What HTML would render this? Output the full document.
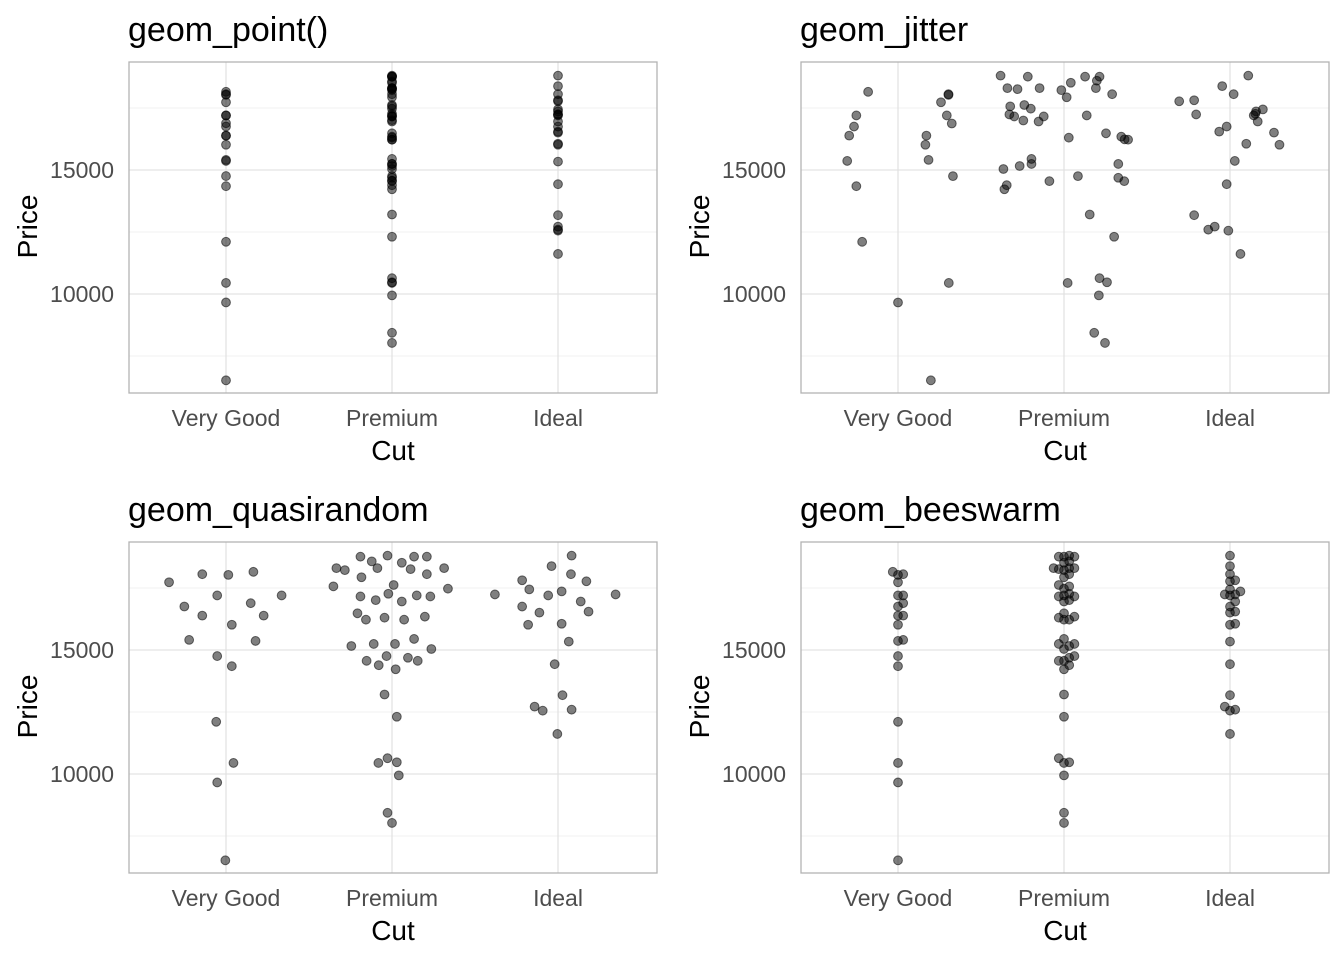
<!DOCTYPE html>
<html><head><meta charset="utf-8"><style>
body{margin:0;background:#fff;}
svg{display:block;font-family:"Liberation Sans",Arial,sans-serif;}
</style></head><body>
<svg id="chart" width="1344" height="960" viewBox="0 0 1344 960"></svg>
<script>
const categories = ["Very Good","Premium","Ideal"];
const yTicks = [10000,15000];
const yMinor = [7500,12500,17500];
const panelTitles = ["geom_point()","geom_jitter","geom_quasirandom","geom_beeswarm"];

// base prices
const priceVG = [17731,18057,18030,18152,16753,17201,17201,16386,16888,16386,16019,15407,15366,14755,14347,12105,10447,9659,6519];
const pricePrem = [18763,18573,18804,18763,18763,18301,18220,18301,18519,18260,18301,17934,18057,17567,17622,17472,17160,17010,17268,16956,17201,17160,16480,16222,16303,16222,16344,15162,15244,15244,15447,15040,14755,14564,14387,14686,14564,14224,13205,12308,10446,10637,10474,9944,8435,8027];
const priceIdeal = [18804,18383,18057,17812,17771,17445,17364,17241,17201,17241,16956,16752,16507,16548,16018,16059,15339,14428,13178,12716,12553,12594,11615];
// quasirandom offsets (category units)
const quasiVG = [-0.343,-0.143,0.014,0.165,-0.251,-0.053,0.335,-0.143,0.149,0.227,0.035,-0.222,0.178,-0.053,0.035,-0.059,0.045,-0.053,-0.004];
const quasiPrem = [-0.19,-0.122,-0.027,0.133,0.21,-0.335,-0.284,-0.088,0.059,0.112,0.314,-0.184,0.21,-0.353,0.01,0.337,-0.19,-0.098,-0.022,0.059,0.149,0.231,-0.208,-0.157,-0.045,0.073,0.198,-0.245,-0.11,0.018,0.133,0.237,-0.033,-0.153,-0.08,0.096,0.155,0.022,-0.045,0.029,-0.082,-0.027,0.029,0.041,-0.027,0];
const quasiIdeal = [0.082,-0.039,0.078,-0.216,0.171,-0.173,0.022,-0.38,-0.059,0.347,0.137,-0.216,-0.112,0.184,-0.18,0.022,0.065,-0.02,0.027,-0.141,-0.092,0.082,-0.004];
// jitter panel
const jitPriceVG = [18152,17201,16752,16385,15366,14347,12104,9658,6519,18057,18030,17731,17201,16874,16385,16018,15407,14754,10446];
const jitOffVG = [-0.18,-0.251,-0.265,-0.294,-0.306,-0.251,-0.216,0,0.198,0.304,0.304,0.259,0.294,0.324,0.171,0.165,0.184,0.331,0.306];
const jitPricePrem = [18804,18763,18301,18260,18301,18220,18519,17934,18763,18763,18600,18301,18057,17567,17622,17472,17241,17160,16997,16956,17160,17201,16303,16480,16344,16236,16222,15447,15244,15162,15040,15244,14754,14686,14550,14550,14387,14224,13205,12308,10446,10637,10474,9944,8435,8027];
const jitOffPrem = [-0.382,-0.218,-0.341,-0.28,-0.147,-0.016,0.041,0.016,0.127,0.214,0.198,0.192,0.29,-0.324,-0.239,-0.2,-0.329,-0.3,-0.245,-0.153,-0.122,0.137,0.029,0.253,0.345,0.365,0.386,-0.196,-0.196,-0.267,-0.365,0.327,0.084,0.327,0.363,-0.088,-0.345,-0.359,0.155,0.302,0.022,0.214,0.259,0.21,0.182,0.247];
const jitPriceIdeal = [18804,18383,18057,17771,17812,17241,17445,17364,17201,17268,16956,16752,16548,16507,16059,16018,15366,14428,13178,12716,12594,12553,11615];
const jitOffIdeal = [0.11,-0.047,0.022,-0.306,-0.216,-0.204,0.198,0.157,0.143,0.153,0.167,-0.02,-0.065,0.265,0.098,0.298,0.029,-0.02,-0.216,-0.092,-0.131,-0.01,0.063];

const NS="http://www.w3.org/2000/svg";
const svg=document.getElementById("chart");
function mk(tag,attrs,parent){const e=document.createElementNS(NS,tag);for(const k in attrs)e.setAttribute(k,attrs[k]);(parent||svg).appendChild(e);return e;}

const panels=[{x:129,y:62},{x:801,y:62},{x:129,y:542},{x:801,y:542}];
const PW=528,PH=331;
const catW=166;
function xScale(p,ci,off){return p.x+97+catW*(ci+off);}
function yScale(p,v){return p.y+108-(v-15000)*0.0248;}

const prices=[priceVG,pricePrem,priceIdeal];
const quasi=[quasiVG,quasiPrem,quasiIdeal];
const jitP=[jitPriceVG,jitPricePrem,jitPriceIdeal];
const jitO=[jitOffVG,jitOffPrem,jitOffIdeal];

function beeswarm(p,vals){
  const d=5.2, placed=[], offs=new Array(vals.length).fill(0);
  const idx=vals.map((v,i)=>i).sort((a,b)=>vals[a]-vals[b]);
  idx.forEach(i=>{
    const y=yScale(p,vals[i]);
    const cands=[0];for(let k=1;k<30;k++){cands.push(k*d);cands.push(-k*d);}
    for(const c of cands){
      if(placed.every(q=>Math.hypot(q.x-c,q.y-y)>=d)){placed.push({x:c,y:y});offs[i]=c/catW;break;}
    }
  });
  return offs;
}

panels.forEach((p,pi)=>{
  const g=mk("g",{});
  
  
  yMinor.forEach(v=>{const l=mk("line",{x1:p.x,x2:p.x+PW,y1:yScale(p,v),y2:yScale(p,v),stroke:"#ebebeb","stroke-width":0.8},g);
    });
  yTicks.forEach(v=>{const l=mk("line",{x1:p.x,x2:p.x+PW,y1:yScale(p,v),y2:yScale(p,v),stroke:"#dedede","stroke-width":1.1},g);
    
    const t=mk("text",{x:p.x-15,y:yScale(p,v)+8,"text-anchor":"end","font-size":"23",fill:"#4d4d4d"},g);t.textContent=v;
    });
  categories.forEach((c,ci)=>{const x=xScale(p,ci,0);
    const l=mk("line",{x1:x,x2:x,y1:p.y,y2:p.y+PH,stroke:"#dedede","stroke-width":1.1},g);
    
    const t=mk("text",{x:x,y:p.y+PH+33,"text-anchor":"middle","font-size":"23",fill:"#4d4d4d"},g);t.textContent=c;
    });
  const b=mk("rect",{x:p.x,y:p.y,width:PW,height:PH,fill:"none",stroke:"#b3b3b3","stroke-width":1.3},g);
  
  const tt=mk("text",{x:p.x-1,y:p.y-21,"font-size":"34",fill:"#000"},g);tt.textContent=panelTitles[pi];
  
  const xt=mk("text",{x:p.x+PW/2,y:p.y+PH+67,"text-anchor":"middle","font-size":"28",fill:"#000"},g);xt.textContent="Cut";
  
  const ty=p.y+PH/2-1, tx=p.x-92;
  const yt=mk("text",{x:tx,y:ty,"text-anchor":"middle","font-size":"28",fill:"#000",transform:`rotate(-90 ${tx} ${ty})`},g);yt.textContent="Price";
  
  categories.forEach((c,ci)=>{
    let vals, offs;
    if(pi===0){vals=prices[ci];offs=vals.map(()=>0);}
    else if(pi===1){vals=jitP[ci];offs=jitO[ci];}
    else if(pi===2){vals=prices[ci];offs=quasi[ci];}
    else {vals=prices[ci];offs=beeswarm(p,vals);}
    vals.forEach((v,i)=>{
      const pt=mk("circle",{cx:xScale(p,ci,offs[i]),cy:yScale(p,v),r:4.4,fill:"rgba(0,0,0,0.5)",stroke:"rgba(0,0,0,0.55)","stroke-width":1},g);
      
      
    });
  });
});
</script>
</body></html>
